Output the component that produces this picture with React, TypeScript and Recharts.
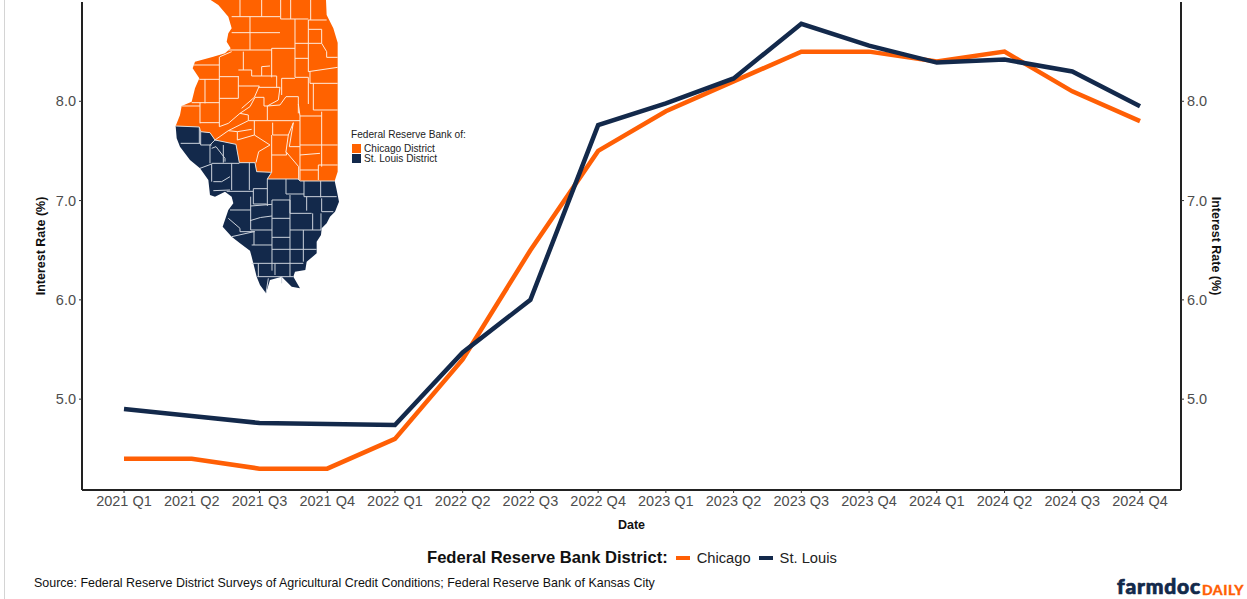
import React from 'react';
import {LineChart,Line,XAxis,YAxis,Legend} from 'recharts';

const quarters=['2021 Q1','2021 Q2','2021 Q3','2021 Q4','2022 Q1','2022 Q2','2022 Q3','2022 Q4','2023 Q1','2023 Q2','2023 Q3','2023 Q4','2024 Q1','2024 Q2','2024 Q3','2024 Q4'];
const chicago=[4.4,4.4,4.3,4.3,4.6,5.4,6.5,7.5,7.9,8.2,8.5,8.5,8.4,8.5,8.1,7.8];
const stLouis=[4.9,4.83,4.76,4.75,4.74,5.47,6.0,7.76,7.98,8.23,8.78,8.56,8.39,8.42,8.3,7.95];
const rateTicks=[5,6,7,8];
const rows=quarters.map((q,i)=>({q,chicago:chicago[i],stLouis:stLouis[i]}));

const ORANGE='#FF5F05';
const NAVY='#13294B';
const FONT='"Liberation Sans",Arial,sans-serif';
const fmt=(v:number)=>v.toFixed(1);

// Illinois inset, county outlines traced by hand (drawn at 3x, scaled down)
const chicagoShape='M152 0H498L500 45L520 85L533 128V515L524 543H420L415 537H322L335 517L290 515L285 488H238L228 433L165 420L150 398L122 395L118 381L47 378L60 345L65 318L95 305L105 265L118 235L98 205L105 185L160 170L195 160L212 145L200 125L205 100L215 85L205 50L175 15Z';
const stLouisShape='M47 378L118 381L122 395L150 398L165 420L228 433L238 488H285L290 515L335 517L322 537H415L420 543H524L530 570L537 605L525 635L510 650L500 670L485 685L483 705L470 725L470 760L440 785L436 810L405 815L400 830L420 865L395 860L365 830L330 840L318 880L300 855L290 830L275 770L270 752L240 730L215 710L188 680L205 630L220 610L215 590L195 575L165 590L150 585L145 540L120 505L90 480L60 440L50 415Z';
const chicagoCounties=[
  'M240 0V50','M305 0V50','M362 0V57','M392 0V57','M452 0V60','M215 50H360','M362 57H445','M445 60H500',
  'M270 50V150','M215 98H360','M405 57V232','M445 60V215','M445 88H485V130L500 155V172H533','M405 130H485',
  'M335 145H405','M335 145V232','M205 150H335','M180 170L215 155','M250 155V210','M178 170V380','M100 195H178','M405 175H445','M445 215L533 202','M450 215V250H533',
  'M405 232H445V312','M365 235H405','M365 235V285','M235 210H275V228H350V262','M235 228V295','M178 230H235','M118 238H178','M135 238V310','M305 200L330 198','M305 200V228','M235 258H298L283 292L245 325',
  'M295 262H360L355 300L322 318H312V292H285','M178 295H235','M95 308H178','M120 308V370','M65 318H120','M120 368H178','M178 380L205 370L240 340L270 320L285 292',
  'M240 340L265 345V362L205 392L165 420','M205 392L232 395V420','M322 318V362H265','M322 318L360 315L378 290H415V340','M322 362H420','M460 250V330H533','M415 312L420 348H485','M485 335V500','M420 348V540',
  'M283 362V405L232 420','M283 405L330 435L296 455L288 488','M338 368V405H385L400 368','M335 405V465H380L378 455','M385 405L378 455L416 500V540','M400 368L388 440H420','M420 435H533','M420 465L480 460','M420 510H475','M475 495H533','M475 495V540','M335 517V465','M232 395L275 388',
];
const stLouisCounties=[
  'M118 381V430','M62 430H122','M122 395V435H155','M150 435V490','M165 420L150 435','M155 445L168 440L195 475V485','M190 435V488','M155 490H238','M120 505L155 492','M155 492V545','M215 490V570','M268 488V570','M160 545H185L210 530','M160 572L210 570',
  'M200 574H280','M280 566V612H320','M280 566H322','M322 537V618','M378 537V582','M432 543V590','M482 543V592','M378 582H432','M432 590H530','M336 600H390V640','M336 600V812','M390 585V785','M440 590V632','M485 595V635H520',
  'M272 618L336 613','M210 630H272','M272 590V690','M270 662Q300 650 336 648','M272 690H336','M205 655L240 685V695H285','M282 695V735','M215 710L282 695','M336 655H390','M336 712H390','M390 640H455','M458 640V690','M483 640V690','M390 690H483','M430 690V785','M336 748H470','M275 735H336','M275 790H430','M295 790V830','M345 790V825','M390 785V830','M292 830H400','M325 835L318 880','M365 830V850',
];
// Small swatches are drawn in the same county colours as the inset
const IllinoisInset=()=>(
  <svg width={1247} height={599} style={{position:'absolute',left:0,top:0,pointerEvents:'none'}}>
    <rect x={4} y={0} width={1} height={599} fill="#d4d4d4"/>
    <g transform="translate(160,0) scale(0.33333)">
      <path d={chicagoShape} fill="#FF6200"/>
      <path d={stLouisShape} fill={NAVY}/>
      {chicagoCounties.map((d,i)=><path key={i} d={d} fill="none" stroke="#FFEBDC" strokeWidth={3}/>)}
      {stLouisCounties.map((d,i)=><path key={i} d={d} fill="none" stroke="#CDD3DC" strokeWidth={3}/>)}
      <path d="M47 378L118 381L122 395L150 398L165 420L228 433L238 488H285L290 515L335 517L322 537H415L420 543H524" fill="none" stroke="#E3DCD6" strokeWidth={3}/>
    </g>
    <text x={351} y={138} fontFamily={FONT} fontSize={10.15} fill="#222">Federal Reserve Bank of:</text>
    <rect x={352} y={144} width={9} height={9} fill="#FF6200"/>
    <rect x={352} y={154} width={9} height={9} fill={NAVY}/>
    <text x={364} y={152} fontFamily={FONT} fontSize={10.15} fill="#222">Chicago District</text>
    <text x={364} y={161.5} fontFamily={FONT} fontSize={10.15} fill="#222">St. Louis District</text>
    <text x={34} y={587} fontFamily={FONT} fontSize={12.46} fill="#111">Source: Federal Reserve District Surveys of Agricultural Credit Conditions; Federal Reserve Bank of Kansas City</text>
    <text x={1117} y={594} fontFamily="Lato,sans-serif" fontWeight={900} fontSize={21} fill={NAVY} stroke={NAVY} strokeWidth={0.7} letterSpacing={0.8}>farmdoc</text>
    <text x={1202} y={595} fontFamily="Lato,sans-serif" fontWeight={900} fontSize={14} fill={ORANGE} stroke={ORANGE} strokeWidth={0.3} letterSpacing={0.5}>DAILY</text>
  </svg>
);

const DistrictLegend=({payload}:any)=>(
  <div style={{display:'flex',alignItems:'center',fontFamily:FONT,color:'#111',whiteSpace:'nowrap'}}>
    <span style={{fontWeight:700,fontSize:16.6,marginRight:8}}>Federal Reserve Bank District:</span>
    {(payload||[]).map((p:any)=>(
      <span key={p.value} style={{display:'flex',alignItems:'center',marginRight:8}}>
        <span style={{display:'inline-block',width:14,height:4,background:p.color,marginRight:7}}/>
        <span style={{fontSize:14.7,color:'#222'}}>{p.value}</span>
      </span>
    ))}
  </div>
);

const tick={fontSize:14.5,fill:'#4D4D4D',fontFamily:FONT};
const axisLine={stroke:'#222',strokeWidth:2};
const tickLine={stroke:'#333',strokeWidth:1};
const titleStyle={fontSize:12.5,fontWeight:700,fill:'#111',fontFamily:FONT};

export default function App(){
  return(
    <div style={{position:'absolute',left:0,top:0,width:1247,height:599,background:'#fff',overflow:'hidden'}}>
      <LineChart width={1247} height={599} data={rows} margin={{top:2,right:6,bottom:59,left:22}}>
        <XAxis dataKey="q" scale="point" padding={{left:42,right:41}} height={30} interval={0} tick={tick} tickSize={3} tickMargin={3} axisLine={axisLine} tickLine={tickLine}
          label={{value:'Date',position:'insideBottom',offset:-9,style:titleStyle}}/>
        <YAxis yAxisId="left" width={60} domain={[4.085,9]} allowDataOverflow ticks={rateTicks} tickFormatter={fmt} tick={tick} tickSize={3} tickMargin={3} axisLine={axisLine} tickLine={tickLine}
          label={{value:'Interest Rate (%)',angle:-90,position:'insideLeft',offset:0,dx:19,style:{...titleStyle,textAnchor:'middle'}}}/>
        <YAxis yAxisId="right" orientation="right" width={60} domain={[4.085,9]} allowDataOverflow ticks={rateTicks} tickFormatter={fmt} tick={tick} tickSize={3} tickMargin={3} axisLine={axisLine} tickLine={tickLine}
          label={{value:'Interest Rate (%)',angle:90,position:'insideRight',offset:0,dx:-25,style:{...titleStyle,textAnchor:'middle'}}}/>
        <Line yAxisId="left" dataKey="chicago" name="Chicago" type="linear" stroke={ORANGE} strokeWidth={4.5} dot={false} isAnimationActive={false}/>
        <Line yAxisId="left" dataKey="stLouis" name="St. Louis" type="linear" stroke={NAVY} strokeWidth={4.5} dot={false} isAnimationActive={false}/>
        <Legend content={<DistrictLegend/>} wrapperStyle={{position:'absolute',left:427,top:548,width:'auto'}}/>
      </LineChart>
      <IllinoisInset/>
    </div>
  );
}
